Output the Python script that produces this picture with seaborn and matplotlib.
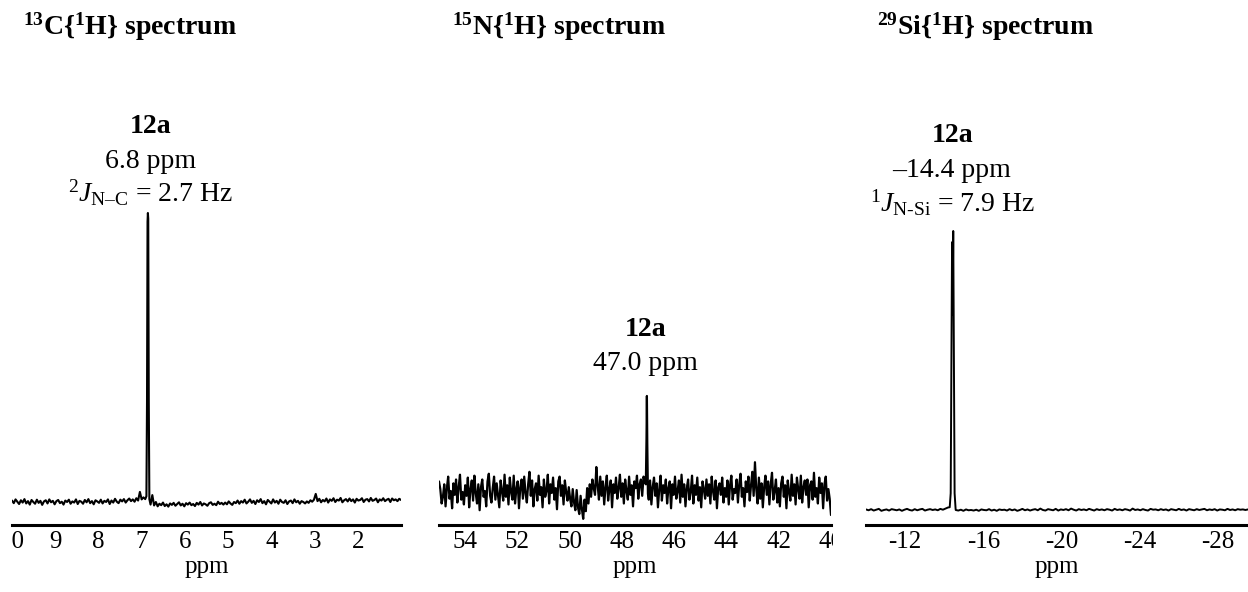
import numpy as np
import pandas as pd
import matplotlib
matplotlib.use("Agg")
import matplotlib.pyplot as plt
import seaborn as sns
from matplotlib.transforms import Bbox, TransformedBbox

# ---------------- data ----------------
# 13C{1H} spectrum
c_range = (10.0, 1.0)
c_noise = [0.5, -0.4, 0.9, 0.1, -0.7, 0.6, -0.2, 1.0, -0.5, 0.3, -0.9, 0.7, 0.0, -0.6, 0.8, -0.3, 0.4, -1.0, 0.2, 0.6,
           -0.5, 0.9, -0.1, 0.4, -0.8, 0.3, 0.7, -0.4, 0.1, -0.9, 0.5, 0.0, 0.8, -0.6, 0.2, -0.2, 0.9, -0.7, 0.4, 0.1,
           -0.6, 0.7, -0.1, 1.0, -0.4, 0.3, -0.8, 0.6, 0.2, -0.3, 0.8, -0.5, 0.4, 0.0, 0.9, -0.7, 0.5, -0.2, 1.1, 0.1,
           -0.4, 0.8, 0.2, 1.0, -0.2, 0.6, 1.2, 0.3, 0.9, 0.1, 1.3, 0.5, 3.5, 0.9, 1.6, 1.0, 0.5, 0.2, -0.9, 2.4,
           -1.2, 0.0, -1.5, -0.6, -1.1, -0.2, -1.4, -0.8, -1.6, -0.5, -1.0, -0.3, -1.3, -0.7, -0.1, -1.2, -0.6, -1.5, -0.4, -0.9,
           -0.2, -1.1, -0.7, -1.4, -0.3, -0.9, 0.0, -1.2, -0.5, -0.8, -1.3, -0.4, -0.1, -1.0, -0.6, -1.1, 0.1, -0.7, -0.3, -0.9,
           -0.2, -0.8, 0.2, -0.5, -1.0, 0.0, -0.4, 0.5, -0.6, 0.3, -0.2, 0.8, -0.5, 0.1, 0.9, -0.3, 0.4, -0.7, 0.6, 0.0,
           1.0, -0.4, 0.3, -0.8, 0.7, 0.1, -0.5, 0.9, -0.2, 0.4, -0.6, 0.8, 0.0, -0.3, 0.6, -0.7, 0.2, 0.5, -0.4, 0.9,
           -0.1, 0.4, -0.6, 0.3, 0.0, -0.5, 0.2, -0.3, 0.6, 0.1, 0.8, 2.8, 0.3, 1.1, -0.1, 0.7, 0.2, 1.2, -0.2, 0.9,
           0.4, 1.3, 0.0, 0.8, 0.5, 1.4, -0.1, 0.6, 1.0, 0.2, 1.2, 0.3, 0.9, -0.2, 1.1, 0.5, 0.7, 1.3, 0.0, 0.8,
           1.0, 0.2, 1.4, 0.4, 0.7, 1.2, -0.1, 0.9, 0.5, 1.3, 0.3, 0.8, 1.1, 0.0, 1.2, 0.6, 0.9, 0.3, 1.1, 0.7]
c_peak_ppm = [6.890, 6.876, 6.864, 6.856, 6.848, 6.836, 6.822]
c_peak_int = [2.0, 35.0, 97.0, 100.0, 98.0, 35.0, 1.0]
c_ticks = [10, 9, 8, 7, 6, 5, 4, 3, 2]
c_ticklabels = ["10", "9", "8", "7", "6", "5", "4", "3", "2"]

# 15N{1H} spectrum
n_range = (55.0, 40.0)
n_noise = [11, 3, -12, -5, 8, -15, 4, 16, -7, 1, -17, 9, -3, 13, -11, 5, 18, -8, 0, -13,
           7, -4, 15, -16, 3, 12, -9, 17, -1, -12, 8, -19, 5, 13, -5, 1, -15, 11, 19, -4,
           -11, 4, 16, -8, 9, -3, -16, 12, 1, -9, 18, -5, 7, -13, 15, 0, -8, 17, -12, 3,
           11, -17, 5, 13, -7, 16, -1, -11, 8, 21, -4, 12, -15, 3, 9, -9, 17, -3, 5, -16,
           13, -5, 1, 18, -12, 8, -1, 15, -8, 4, -18, 11, 16, -4, 7, -13, 12, 0, -9, 5,
           -7, -15, 3, -11, -19, 2, -16, -23, -4, -18, -28, -8, -20, 4, -12, 8, -5, 13, 4, -3,
           26, 7, -8, 16, -4, 11, -13, 5, 17, -9, 3, 12, -16, 8, -1, 15, -7, 4, 18, -5,
           9, -12, 13, 1, -8, 16, -3, 7, -15, 11, 4, 17, -7, 8, 13, -4, 16, 11, 5, -3,
           -8, 12, -13, 5, 15, -4, 9, -16, 3, 17, -9, 7, -1, 13, -12, 4, 11, -17, 8, -3,
           16, -7, 1, 12, -11, 18, -5, 8, -15, 4, 13, -8, 0, 17, -12, 7, -3, 15, -9, 5,
           -16, 11, 3, -7, 13, -4, 8, -12, 16, 1, -8, 12, -17, 5, 9, -3, 15, -11, 4, -5,
           12, -13, 7, 17, -8, 3, -1, 13, -11, 8, 19, -5, 4, -15, 11, 0, 16, -9, 7, 21,
           -4, 31, 3, -12, 15, -7, 9, -16, 5, 17, -3, 11, -13, 8, 20, -8, 1, 13, -11, 4,
           -15, 9, 16, -5, 7, -17, 12, 0, -9, 18, -4, 8, -13, 15, 3, -7, 17, -11, 5, 12,
           -3, 13, -16, 7, 11, -8, 20, -5, 4, -12, 15, -1, 9, -17, 8, 16, -9, 3, -7, -24]
n_peak_ppm = [47.085, 47.060, 47.045, 47.030, 47.005]
n_peak_int = [8.0, 55.0, 100.0, 50.0, -2.0]
n_ticks = [54, 52, 50, 48, 46, 44, 42, 40]
n_ticklabels = ["54", "52", "50", "48", "46", "44", "42", "40"]

# 29Si{1H} spectrum
si_range = (-10.0, -29.53)
si_noise = [0.2, -0.1, 0.3, -0.2, 0.1, 0.4, -0.3, 0.0, 0.2, -0.2, 0.3, 0.1, -0.1, 0.2, -0.3,
            0.1, 0.4, 0.0, -0.2, 0.3, -0.1, 0.2, 0.4, -0.2, 0.1, 0.3, 0.0, 0.2, -0.1, 0.4,
            0.1, 0.5, 0.9, 0.0, 0.0, 0.0, -0.2, 0.1, -0.3, 0.2, -0.1, 0.0, -0.2, 0.1, -0.3,
            0.2, 0.0, -0.1, 0.3, -0.2, 0.1, -0.3, 0.2, 0.0, 0.1, -0.2, 0.3, -0.1, 0.2, -0.3,
            0.0, 0.4, -0.1, 0.2, -0.2, 0.1, 0.3, -0.1, 0.5, 0.0, -0.2, 0.3, 0.1, -0.1, 0.4,
            -0.2, 0.2, 0.0, 0.3, -0.1, 0.5, 0.1, -0.2, 0.3, 0.0, 0.2, -0.1, 0.4, 0.1, -0.2,
            0.3, 0.0, 0.2, -0.1, 0.3, 0.1, -0.2, 0.4, 0.0, 0.2, -0.1, 0.3, 0.1, -0.2, 0.5,
            0.0, 0.2, -0.1, 0.3, 0.0, -0.2, 0.4, 0.1, 0.2, -0.1, 0.3, 0.0, 0.2, -0.2, 0.3,
            0.1, -0.1, 0.4, 0.0, 0.2, -0.2, 0.3, 0.1, -0.1, 0.3, 0.0, 0.2, 0.4, -0.1, 0.2,
            0.0, 0.3, -0.2, 0.2, 0.1, -0.1, 0.4, 0.0, 0.2, -0.1, 0.3, 0.1, 0.2, 0.0, 0.2]
si_peak_ppm = [-14.28, -14.33, -14.37, -14.40, -14.43, -14.46, -14.49, -14.53, -14.58]
si_peak_int = [1.0, 6.0, 55.0, 96.0, 70.0, 100.0, 60.0, 6.0, 0.5]
si_ticks = [-12, -16, -20, -24, -28]
si_ticklabels = ["-12", "-16", "-20", "-24", "-28"]

titles = [r"$^{\mathbf{13}}$C{$^{\mathbf{1}}$H} spectrum",
          r"$^{\mathbf{15}}$N{$^{\mathbf{1}}$H} spectrum",
          r"$^{\mathbf{29}}$Si{$^{\mathbf{1}}$H} spectrum"]


def spectrum(rng, noise, peak_ppm, peak_int):
    grid = np.linspace(rng[0], rng[1], len(noise))
    lo, hi = min(peak_ppm), max(peak_ppm)
    keep = (grid < lo) | (grid > hi)
    df = pd.DataFrame({"ppm": np.concatenate([grid[keep], peak_ppm]),
                       "intensity": np.concatenate([np.asarray(noise, float)[keep], peak_int])})
    return df.sort_values("ppm").reset_index(drop=True)


# ---------------- style ----------------
sns.set_style("white")
plt.rcParams["font.family"] = ["Liberation Serif", "DejaVu Serif"]
plt.rcParams["mathtext.fontset"] = "custom"
plt.rcParams["mathtext.rm"] = "Liberation Serif"
plt.rcParams["mathtext.it"] = "Liberation Serif:italic"
plt.rcParams["mathtext.bf"] = "Liberation Serif:bold"
plt.rcParams["axes.unicode_minus"] = False
for key in ["text.color", "axes.labelcolor", "xtick.color", "ytick.color", "axes.edgecolor"]:
    plt.rcParams[key] = "black"

W, H = 1248, 592
fig = plt.figure(figsize=(W / 100, H / 100), dpi=100)


def px_axes(left, right, bottom=525, top=100):
    return fig.add_axes([left / W, 1 - bottom / H, (right - left) / W, (bottom - top) / H])


panels = [
    dict(ax=px_axes(12, 401), rng=c_range, df=spectrum(c_range, c_noise, c_peak_ppm, c_peak_int),
         ylim=(-7.96, 139.1), ticks=c_ticks, labels=c_ticklabels, minor=0.5, lw=1.5),
    dict(ax=px_axes(439, 831), rng=n_range, df=spectrum(n_range, n_noise, n_peak_ppm, n_peak_int),
         ylim=(-34.4, 408.3), ticks=n_ticks, labels=n_ticklabels, minor=1.0, lw=1.6),
    dict(ax=px_axes(866, 1248), rng=si_range, df=spectrum(si_range, si_noise, si_peak_ppm, si_peak_int),
         ylim=(-5.38, 146.95), ticks=si_ticks, labels=si_ticklabels, minor=1.0, lw=1.4),
]

for p in panels:
    ax = p["ax"]
    sns.lineplot(data=p["df"], x="ppm", y="intensity", ax=ax, color="black",
                 linewidth=p["lw"], estimator=None, errorbar=None)
    ax.set_xlim(*p["rng"])
    ax.set_ylim(*p["ylim"])
    for s in ["left", "right", "top"]:
        ax.spines[s].set_visible(False)
    ax.spines["bottom"].set_linewidth(2.2)
    ax.set_yticks([])
    ax.set_ylabel("")
    ax.set_xticks(p["ticks"], labels=p["labels"])
    lo, hi = sorted(p["rng"])
    start = np.ceil(lo / p["minor"]) * p["minor"]
    minors = np.arange(start, hi + 1e-9, p["minor"])
    ax.set_xticks(minors, minor=True)
    ax.tick_params(axis="x", which="major", direction="out", length=3.5, width=2.0,
                   labelsize=18, pad=1, color="black")
    ax.tick_params(axis="x", which="minor", direction="out", length=2.5, width=1.6, color="black")
    ax.set_xlabel("ppm", fontsize=18, labelpad=2)
    ax.patch.set_alpha(0)

# clip the edge labels as in the reference composite
clip1 = TransformedBbox(Bbox.from_extents(11.5 / W, 0, 1, 1), fig.transFigure)
for lbl in panels[0]["ax"].get_xticklabels():
    lbl.set_clip_box(clip1)
    lbl.set_clip_on(True)
clip2 = TransformedBbox(Bbox.from_extents(0, 0, 833 / W, 1), fig.transFigure)
for lbl in panels[1]["ax"].get_xticklabels():
    lbl.set_clip_box(clip2)
    lbl.set_clip_on(True)


def ftext(x, y, s, **kw):
    fig.text(x / W, 1 - y / H, s, **kw)


# titles
for x, t in zip([23, 452, 877], titles):
    ftext(x, 35, t, fontsize=20, fontweight="bold", ha="left", va="baseline")

# peak annotations
ann = dict(ha="center", va="baseline", fontsize=20)
ftext(151, 133, "12a", fontweight="bold", **ann)
ftext(151, 168, "6.8 ppm", **ann)
ftext(150, 202, "$^{2}$$\\mathit{J}_{\\mathrm{N\u2013C}}$ = 2.7 Hz", **ann)

ftext(646, 336, "12a", fontweight="bold", **ann)
ftext(645, 370, "47.0 ppm", **ann)

ftext(953, 142, "12a", fontweight="bold", **ann)
ftext(952, 177, "\u201314.4 ppm", **ann)
ftext(952, 212, "$^{1}$$\\mathit{J}_{\\mathrm{N\u2010Si}}$ = 7.9 Hz", **ann)

fig.savefig("out.png", dpi=100)
